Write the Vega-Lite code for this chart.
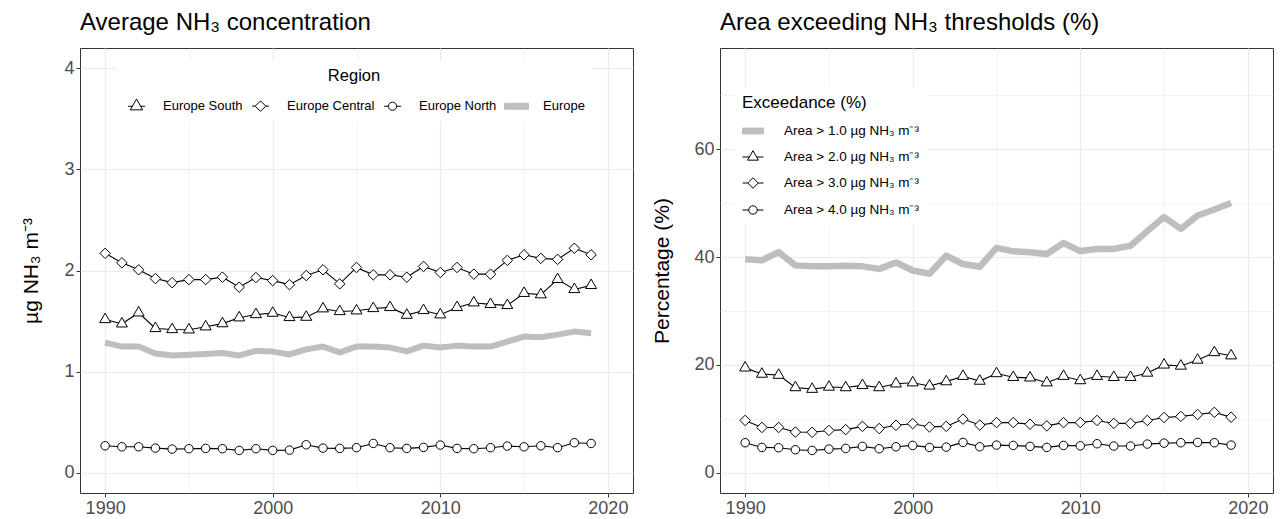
{
  "$schema": "https://vega.github.io/schema/vega-lite/v6.json",
  "background": "white",
  "padding": {"left": 20, "top": 10, "right": 5, "bottom": 0},
  "spacing": 87,
  "bounds": "flush",
  "resolve": {"scale": {"shape": "independent", "fill": "independent", "stroke": "independent"}, "legend": {"shape": "independent", "fill": "independent", "stroke": "independent"}},
  "config": {
    "font": "Liberation Sans",
    "view": {"stroke": "#333333", "strokeWidth": 1},
    "title": {"font": "Liberation Sans", "fontSize": 24, "fontWeight": "normal", "anchor": "start", "frame": "group", "color": "black", "offset": 13},
    "axis": {
      "domain": false,
      "labelFont": "Liberation Sans",
      "labelFontSize": 18,
      "labelColor": "#4d4d4d",
      "tickColor": "#333333",
      "tickSize": 4,
      "labelPadding": 2,
      "titleFont": "Liberation Sans",
      "titleFontSize": 21,
      "titleFontWeight": "normal",
      "titleColor": "black",
      "gridColor": "#ebebeb",
      "labelFlush": false
    },
    "legend": {
      "labelFont": "Liberation Sans",
      "titleFont": "Liberation Sans",
      "titleFontWeight": "normal",
      "titleColor": "black",
      "labelColor": "black"
    }
  },
  "datasets": {
    "conc": [
      {"year":1990,"region":"Europe South","value":1.516},{"year":1991,"region":"Europe South","value":1.473},{"year":1992,"region":"Europe South","value":1.582},{"year":1993,"region":"Europe South","value":1.427},{"year":1994,"region":"Europe South","value":1.417},{"year":1995,"region":"Europe South","value":1.414},{"year":1996,"region":"Europe South","value":1.444},{"year":1997,"region":"Europe South","value":1.475},{"year":1998,"region":"Europe South","value":1.533},{"year":1999,"region":"Europe South","value":1.565},{"year":2000,"region":"Europe South","value":1.579},{"year":2001,"region":"Europe South","value":1.536},{"year":2002,"region":"Europe South","value":1.539},{"year":2003,"region":"Europe South","value":1.622},{"year":2004,"region":"Europe South","value":1.595},{"year":2005,"region":"Europe South","value":1.602},{"year":2006,"region":"Europe South","value":1.625},{"year":2007,"region":"Europe South","value":1.635},{"year":2008,"region":"Europe South","value":1.559},{"year":2009,"region":"Europe South","value":1.605},{"year":2010,"region":"Europe South","value":1.563},{"year":2011,"region":"Europe South","value":1.635},{"year":2012,"region":"Europe South","value":1.681},{"year":2013,"region":"Europe South","value":1.665},{"year":2014,"region":"Europe South","value":1.655},{"year":2015,"region":"Europe South","value":1.775},{"year":2016,"region":"Europe South","value":1.761},{"year":2017,"region":"Europe South","value":1.912},{"year":2018,"region":"Europe South","value":1.813},{"year":2019,"region":"Europe South","value":1.853},
      {"year":1990,"region":"Europe Central","value":2.17},{"year":1991,"region":"Europe Central","value":2.076},{"year":1992,"region":"Europe Central","value":2.007},{"year":1993,"region":"Europe Central","value":1.92},{"year":1994,"region":"Europe Central","value":1.88},{"year":1995,"region":"Europe Central","value":1.91},{"year":1996,"region":"Europe Central","value":1.91},{"year":1997,"region":"Europe Central","value":1.934},{"year":1998,"region":"Europe Central","value":1.835},{"year":1999,"region":"Europe Central","value":1.93},{"year":2000,"region":"Europe Central","value":1.9},{"year":2001,"region":"Europe Central","value":1.86},{"year":2002,"region":"Europe Central","value":1.95},{"year":2003,"region":"Europe Central","value":2.007},{"year":2004,"region":"Europe Central","value":1.868},{"year":2005,"region":"Europe Central","value":2.03},{"year":2006,"region":"Europe Central","value":1.957},{"year":2007,"region":"Europe Central","value":1.957},{"year":2008,"region":"Europe Central","value":1.934},{"year":2009,"region":"Europe Central","value":2.04},{"year":2010,"region":"Europe Central","value":1.98},{"year":2011,"region":"Europe Central","value":2.03},{"year":2012,"region":"Europe Central","value":1.964},{"year":2013,"region":"Europe Central","value":1.964},{"year":2014,"region":"Europe Central","value":2.1},{"year":2015,"region":"Europe Central","value":2.155},{"year":2016,"region":"Europe Central","value":2.12},{"year":2017,"region":"Europe Central","value":2.11},{"year":2018,"region":"Europe Central","value":2.22},{"year":2019,"region":"Europe Central","value":2.155},
      {"year":1990,"region":"Europe North","value":0.267},{"year":1991,"region":"Europe North","value":0.257},{"year":1992,"region":"Europe North","value":0.257},{"year":1993,"region":"Europe North","value":0.244},{"year":1994,"region":"Europe North","value":0.234},{"year":1995,"region":"Europe North","value":0.238},{"year":1996,"region":"Europe North","value":0.241},{"year":1997,"region":"Europe North","value":0.238},{"year":1998,"region":"Europe North","value":0.221},{"year":1999,"region":"Europe North","value":0.238},{"year":2000,"region":"Europe North","value":0.221},{"year":2001,"region":"Europe North","value":0.224},{"year":2002,"region":"Europe North","value":0.277},{"year":2003,"region":"Europe North","value":0.244},{"year":2004,"region":"Europe North","value":0.241},{"year":2005,"region":"Europe North","value":0.248},{"year":2006,"region":"Europe North","value":0.29},{"year":2007,"region":"Europe North","value":0.248},{"year":2008,"region":"Europe North","value":0.241},{"year":2009,"region":"Europe North","value":0.251},{"year":2010,"region":"Europe North","value":0.274},{"year":2011,"region":"Europe North","value":0.241},{"year":2012,"region":"Europe North","value":0.238},{"year":2013,"region":"Europe North","value":0.248},{"year":2014,"region":"Europe North","value":0.264},{"year":2015,"region":"Europe North","value":0.257},{"year":2016,"region":"Europe North","value":0.267},{"year":2017,"region":"Europe North","value":0.248},{"year":2018,"region":"Europe North","value":0.297},{"year":2019,"region":"Europe North","value":0.29},
      {"year":1990,"region":"Europe","value":1.287},{"year":1991,"region":"Europe","value":1.248},{"year":1992,"region":"Europe","value":1.248},{"year":1993,"region":"Europe","value":1.18},{"year":1994,"region":"Europe","value":1.16},{"year":1995,"region":"Europe","value":1.168},{"year":1996,"region":"Europe","value":1.175},{"year":1997,"region":"Europe","value":1.185},{"year":1998,"region":"Europe","value":1.16},{"year":1999,"region":"Europe","value":1.205},{"year":2000,"region":"Europe","value":1.198},{"year":2001,"region":"Europe","value":1.17},{"year":2002,"region":"Europe","value":1.22},{"year":2003,"region":"Europe","value":1.248},{"year":2004,"region":"Europe","value":1.19},{"year":2005,"region":"Europe","value":1.248},{"year":2006,"region":"Europe","value":1.248},{"year":2007,"region":"Europe","value":1.238},{"year":2008,"region":"Europe","value":1.2},{"year":2009,"region":"Europe","value":1.257},{"year":2010,"region":"Europe","value":1.238},{"year":2011,"region":"Europe","value":1.257},{"year":2012,"region":"Europe","value":1.248},{"year":2013,"region":"Europe","value":1.248},{"year":2014,"region":"Europe","value":1.297},{"year":2015,"region":"Europe","value":1.347},{"year":2016,"region":"Europe","value":1.34},{"year":2017,"region":"Europe","value":1.366},{"year":2018,"region":"Europe","value":1.396},{"year":2019,"region":"Europe","value":1.38}
    ],
    "exc": [
      {"year":1990,"threshold":"Area > 1.0 µg NH₃ m⁻³","pct":39.6},{"year":1991,"threshold":"Area > 1.0 µg NH₃ m⁻³","pct":39.4},{"year":1992,"threshold":"Area > 1.0 µg NH₃ m⁻³","pct":40.9},{"year":1993,"threshold":"Area > 1.0 µg NH₃ m⁻³","pct":38.45},{"year":1994,"threshold":"Area > 1.0 µg NH₃ m⁻³","pct":38.3},{"year":1995,"threshold":"Area > 1.0 µg NH₃ m⁻³","pct":38.27},{"year":1996,"threshold":"Area > 1.0 µg NH₃ m⁻³","pct":38.4},{"year":1997,"threshold":"Area > 1.0 µg NH₃ m⁻³","pct":38.27},{"year":1998,"threshold":"Area > 1.0 µg NH₃ m⁻³","pct":37.8},{"year":1999,"threshold":"Area > 1.0 µg NH₃ m⁻³","pct":39.0},{"year":2000,"threshold":"Area > 1.0 µg NH₃ m⁻³","pct":37.5},{"year":2001,"threshold":"Area > 1.0 µg NH₃ m⁻³","pct":36.9},{"year":2002,"threshold":"Area > 1.0 µg NH₃ m⁻³","pct":40.25},{"year":2003,"threshold":"Area > 1.0 µg NH₃ m⁻³","pct":38.7},{"year":2004,"threshold":"Area > 1.0 µg NH₃ m⁻³","pct":38.2},{"year":2005,"threshold":"Area > 1.0 µg NH₃ m⁻³","pct":41.7},{"year":2006,"threshold":"Area > 1.0 µg NH₃ m⁻³","pct":41.05},{"year":2007,"threshold":"Area > 1.0 µg NH₃ m⁻³","pct":40.9},{"year":2008,"threshold":"Area > 1.0 µg NH₃ m⁻³","pct":40.55},{"year":2009,"threshold":"Area > 1.0 µg NH₃ m⁻³","pct":42.6},{"year":2010,"threshold":"Area > 1.0 µg NH₃ m⁻³","pct":41.1},{"year":2011,"threshold":"Area > 1.0 µg NH₃ m⁻³","pct":41.5},{"year":2012,"threshold":"Area > 1.0 µg NH₃ m⁻³","pct":41.5},{"year":2013,"threshold":"Area > 1.0 µg NH₃ m⁻³","pct":42.1},{"year":2014,"threshold":"Area > 1.0 µg NH₃ m⁻³","pct":44.8},{"year":2015,"threshold":"Area > 1.0 µg NH₃ m⁻³","pct":47.4},{"year":2016,"threshold":"Area > 1.0 µg NH₃ m⁻³","pct":45.2},{"year":2017,"threshold":"Area > 1.0 µg NH₃ m⁻³","pct":47.7},{"year":2018,"threshold":"Area > 1.0 µg NH₃ m⁻³","pct":48.8},{"year":2019,"threshold":"Area > 1.0 µg NH₃ m⁻³","pct":50.0},
      {"year":1990,"threshold":"Area > 2.0 µg NH₃ m⁻³","pct":19.45},{"year":1991,"threshold":"Area > 2.0 µg NH₃ m⁻³","pct":18.3},{"year":1992,"threshold":"Area > 2.0 µg NH₃ m⁻³","pct":18.1},{"year":1993,"threshold":"Area > 2.0 µg NH₃ m⁻³","pct":15.8},{"year":1994,"threshold":"Area > 2.0 µg NH₃ m⁻³","pct":15.5},{"year":1995,"threshold":"Area > 2.0 µg NH₃ m⁻³","pct":15.9},{"year":1996,"threshold":"Area > 2.0 µg NH₃ m⁻³","pct":15.8},{"year":1997,"threshold":"Area > 2.0 µg NH₃ m⁻³","pct":16.2},{"year":1998,"threshold":"Area > 2.0 µg NH₃ m⁻³","pct":15.8},{"year":1999,"threshold":"Area > 2.0 µg NH₃ m⁻³","pct":16.5},{"year":2000,"threshold":"Area > 2.0 µg NH₃ m⁻³","pct":16.7},{"year":2001,"threshold":"Area > 2.0 µg NH₃ m⁻³","pct":16.1},{"year":2002,"threshold":"Area > 2.0 µg NH₃ m⁻³","pct":16.9},{"year":2003,"threshold":"Area > 2.0 µg NH₃ m⁻³","pct":17.9},{"year":2004,"threshold":"Area > 2.0 µg NH₃ m⁻³","pct":17.0},{"year":2005,"threshold":"Area > 2.0 µg NH₃ m⁻³","pct":18.4},{"year":2006,"threshold":"Area > 2.0 µg NH₃ m⁻³","pct":17.7},{"year":2007,"threshold":"Area > 2.0 µg NH₃ m⁻³","pct":17.6},{"year":2008,"threshold":"Area > 2.0 µg NH₃ m⁻³","pct":16.7},{"year":2009,"threshold":"Area > 2.0 µg NH₃ m⁻³","pct":17.9},{"year":2010,"threshold":"Area > 2.0 µg NH₃ m⁻³","pct":17.1},{"year":2011,"threshold":"Area > 2.0 µg NH₃ m⁻³","pct":17.9},{"year":2012,"threshold":"Area > 2.0 µg NH₃ m⁻³","pct":17.7},{"year":2013,"threshold":"Area > 2.0 µg NH₃ m⁻³","pct":17.7},{"year":2014,"threshold":"Area > 2.0 µg NH₃ m⁻³","pct":18.5},{"year":2015,"threshold":"Area > 2.0 µg NH₃ m⁻³","pct":20.0},{"year":2016,"threshold":"Area > 2.0 µg NH₃ m⁻³","pct":19.8},{"year":2017,"threshold":"Area > 2.0 µg NH₃ m⁻³","pct":20.9},{"year":2018,"threshold":"Area > 2.0 µg NH₃ m⁻³","pct":22.3},{"year":2019,"threshold":"Area > 2.0 µg NH₃ m⁻³","pct":21.7},
      {"year":1990,"threshold":"Area > 3.0 µg NH₃ m⁻³","pct":9.7},{"year":1991,"threshold":"Area > 3.0 µg NH₃ m⁻³","pct":8.4},{"year":1992,"threshold":"Area > 3.0 µg NH₃ m⁻³","pct":8.4},{"year":1993,"threshold":"Area > 3.0 µg NH₃ m⁻³","pct":7.55},{"year":1994,"threshold":"Area > 3.0 µg NH₃ m⁻³","pct":7.5},{"year":1995,"threshold":"Area > 3.0 µg NH₃ m⁻³","pct":7.85},{"year":1996,"threshold":"Area > 3.0 µg NH₃ m⁻³","pct":8.0},{"year":1997,"threshold":"Area > 3.0 µg NH₃ m⁻³","pct":8.6},{"year":1998,"threshold":"Area > 3.0 µg NH₃ m⁻³","pct":8.2},{"year":1999,"threshold":"Area > 3.0 µg NH₃ m⁻³","pct":8.8},{"year":2000,"threshold":"Area > 3.0 µg NH₃ m⁻³","pct":9.1},{"year":2001,"threshold":"Area > 3.0 µg NH₃ m⁻³","pct":8.5},{"year":2002,"threshold":"Area > 3.0 µg NH₃ m⁻³","pct":8.6},{"year":2003,"threshold":"Area > 3.0 µg NH₃ m⁻³","pct":9.95},{"year":2004,"threshold":"Area > 3.0 µg NH₃ m⁻³","pct":8.85},{"year":2005,"threshold":"Area > 3.0 µg NH₃ m⁻³","pct":9.3},{"year":2006,"threshold":"Area > 3.0 µg NH₃ m⁻³","pct":9.3},{"year":2007,"threshold":"Area > 3.0 µg NH₃ m⁻³","pct":9.0},{"year":2008,"threshold":"Area > 3.0 µg NH₃ m⁻³","pct":8.7},{"year":2009,"threshold":"Area > 3.0 µg NH₃ m⁻³","pct":9.3},{"year":2010,"threshold":"Area > 3.0 µg NH₃ m⁻³","pct":9.3},{"year":2011,"threshold":"Area > 3.0 µg NH₃ m⁻³","pct":9.7},{"year":2012,"threshold":"Area > 3.0 µg NH₃ m⁻³","pct":9.15},{"year":2013,"threshold":"Area > 3.0 µg NH₃ m⁻³","pct":9.15},{"year":2014,"threshold":"Area > 3.0 µg NH₃ m⁻³","pct":9.7},{"year":2015,"threshold":"Area > 3.0 µg NH₃ m⁻³","pct":10.25},{"year":2016,"threshold":"Area > 3.0 µg NH₃ m⁻³","pct":10.45},{"year":2017,"threshold":"Area > 3.0 µg NH₃ m⁻³","pct":10.8},{"year":2018,"threshold":"Area > 3.0 µg NH₃ m⁻³","pct":11.2},{"year":2019,"threshold":"Area > 3.0 µg NH₃ m⁻³","pct":10.3},
      {"year":1990,"threshold":"Area > 4.0 µg NH₃ m⁻³","pct":5.57},{"year":1991,"threshold":"Area > 4.0 µg NH₃ m⁻³","pct":4.7},{"year":1992,"threshold":"Area > 4.0 µg NH₃ m⁻³","pct":4.64},{"year":1993,"threshold":"Area > 4.0 µg NH₃ m⁻³","pct":4.27},{"year":1994,"threshold":"Area > 4.0 µg NH₃ m⁻³","pct":4.14},{"year":1995,"threshold":"Area > 4.0 µg NH₃ m⁻³","pct":4.39},{"year":1996,"threshold":"Area > 4.0 µg NH₃ m⁻³","pct":4.51},{"year":1997,"threshold":"Area > 4.0 µg NH₃ m⁻³","pct":4.89},{"year":1998,"threshold":"Area > 4.0 µg NH₃ m⁻³","pct":4.45},{"year":1999,"threshold":"Area > 4.0 µg NH₃ m⁻³","pct":4.82},{"year":2000,"threshold":"Area > 4.0 µg NH₃ m⁻³","pct":5.07},{"year":2001,"threshold":"Area > 4.0 µg NH₃ m⁻³","pct":4.7},{"year":2002,"threshold":"Area > 4.0 µg NH₃ m⁻³","pct":4.76},{"year":2003,"threshold":"Area > 4.0 µg NH₃ m⁻³","pct":5.63},{"year":2004,"threshold":"Area > 4.0 µg NH₃ m⁻³","pct":4.82},{"year":2005,"threshold":"Area > 4.0 µg NH₃ m⁻³","pct":5.13},{"year":2006,"threshold":"Area > 4.0 µg NH₃ m⁻³","pct":5.07},{"year":2007,"threshold":"Area > 4.0 µg NH₃ m⁻³","pct":4.89},{"year":2008,"threshold":"Area > 4.0 µg NH₃ m⁻³","pct":4.7},{"year":2009,"threshold":"Area > 4.0 µg NH₃ m⁻³","pct":5.07},{"year":2010,"threshold":"Area > 4.0 µg NH₃ m⁻³","pct":5.0},{"year":2011,"threshold":"Area > 4.0 µg NH₃ m⁻³","pct":5.38},{"year":2012,"threshold":"Area > 4.0 µg NH₃ m⁻³","pct":4.95},{"year":2013,"threshold":"Area > 4.0 µg NH₃ m⁻³","pct":4.95},{"year":2014,"threshold":"Area > 4.0 µg NH₃ m⁻³","pct":5.32},{"year":2015,"threshold":"Area > 4.0 µg NH₃ m⁻³","pct":5.5},{"year":2016,"threshold":"Area > 4.0 µg NH₃ m⁻³","pct":5.57},{"year":2017,"threshold":"Area > 4.0 µg NH₃ m⁻³","pct":5.63},{"year":2018,"threshold":"Area > 4.0 µg NH₃ m⁻³","pct":5.57},{"year":2019,"threshold":"Area > 4.0 µg NH₃ m⁻³","pct":5.13}
    ]
  },
  "hconcat": [
    {
      "title": {"text": "Average NH₃ concentration"},
      "width": 553,
      "height": 445,
      "data": {"name": "conc"},
      "encoding": {
        "x": {
          "field": "year", "type": "quantitative",
          "scale": {"domain": [1988.5, 2021.5], "nice": false, "zero": false},
          "axis": {
            "title": null,
            "values": [1990, 1995, 2000, 2005, 2010, 2015, 2020],
            "labelExpr": "datum.value % 10 === 0 ? datum.label : ''",
            "format": "d",
            "tickOpacity": {"condition": {"test": "datum.value % 10 === 0", "value": 1}, "value": 0},
            "gridWidth": {"condition": {"test": "datum.value % 10 === 0", "value": 1.2}, "value": 0.6}
          }
        },
        "y": {
          "field": "value", "type": "quantitative",
          "scale": {"domain": [-0.2, 4.2], "nice": false, "zero": false},
          "axis": {
            "title": "µg NH₃ m⁻³",
            "titlePadding": 22,
            "format": "d",
            "values": [0, 0.5, 1, 1.5, 2, 2.5, 3, 3.5, 4],
            "labelExpr": "datum.value % 1 === 0 ? datum.label : ''",
            "tickOpacity": {"condition": {"test": "datum.value % 1 === 0", "value": 1}, "value": 0},
            "gridWidth": {"condition": {"test": "datum.value % 1 === 0", "value": 1.2}, "value": 0.6}
          }
        }
      },
      "layer": [
        {
          "transform": [{"filter": "datum.region === 'Europe'"}],
          "mark": {"type": "line", "color": "#bebebe", "strokeWidth": 6, "strokeJoin": "round"}
        },
        {
          "transform": [{"filter": "datum.region !== 'Europe'"}],
          "mark": {"type": "line", "color": "black", "strokeWidth": 1.1},
          "encoding": {"detail": {"field": "region"}}
        },
        {
          "transform": [{"filter": "datum.region === 'Europe South'"}],
          "mark": {"type": "point", "filled": true, "fill": "white", "stroke": "black", "strokeWidth": 1, "opacity": 1, "size": 161, "shape": "M0,-1L0.866,0.5L-0.866,0.5Z"}
        },
        {
          "transform": [{"filter": "datum.region === 'Europe Central'"}],
          "mark": {"type": "point", "filled": true, "fill": "white", "stroke": "black", "strokeWidth": 1, "opacity": 1, "size": 110, "shape": "diamond"}
        },
        {
          "transform": [{"filter": "datum.region === 'Europe North'"}],
          "mark": {"type": "point", "filled": true, "fill": "white", "stroke": "black", "strokeWidth": 1, "opacity": 1, "size": 72, "shape": "circle"}
        },
        {
          "mark": {"type": "point", "filled": true, "opacity": 0, "size": 1},
          "encoding": {
            "shape": {
              "field": "region", "type": "nominal",
              "scale": {"domain": ["Europe South", "Europe Central", "Europe North", "Europe"], "range": ["M-0.7,0H-0.3M0.3,0H0.7M0,-0.6L0.52,0.3L-0.52,0.3Z", "M-0.7,0H-0.44M0.44,0H0.7M0,-0.44L0.44,0L0,0.44L-0.44,0Z", "M-0.7,0H-0.34M0.34,0H0.7M0.34,0A0.34,0.34,0,1,1,-0.34,0A0.34,0.34,0,1,1,0.34,0Z", "M-1,-0.25H1V0.25H-1Z"]},
              "legend": {
                "title": "Region",
                "orient": "none",
                "legendX": 37,
                "legendY": 13,
                "direction": "horizontal",
                "columns": 4,
                "titleAnchor": "middle",
                "titleFontSize": 16.5,
                "titlePadding": 9,
                "labelFontSize": 13,
                "symbolSize": 576,
                "symbolOpacity": 1,
                "symbolStrokeWidth": 1,
                "labelOffset": 14,
                "columnPadding": 5,
                "padding": 7,
                "fillColor": "white"
              }
            },
            "fill": {
              "field": "region", "type": "nominal",
              "scale": {"domain": ["Europe South", "Europe Central", "Europe North", "Europe"], "range": ["white", "white", "white", "#bebebe"]}
            },
            "stroke": {
              "field": "region", "type": "nominal",
              "scale": {"domain": ["Europe South", "Europe Central", "Europe North", "Europe"], "range": ["black", "black", "black", "#bebebe"]}
            }
          }
        }
      ]
    },
    {
      "title": {"text": "Area exceeding NH₃ thresholds (%)"},
      "width": 553,
      "height": 445,
      "data": {"name": "exc"},
      "encoding": {
        "x": {
          "field": "year", "type": "quantitative",
          "scale": {"domain": [1988.5, 2021.5], "nice": false, "zero": false},
          "axis": {
            "title": null,
            "values": [1990, 1995, 2000, 2005, 2010, 2015, 2020],
            "labelExpr": "datum.value % 10 === 0 ? datum.label : ''",
            "format": "d",
            "tickOpacity": {"condition": {"test": "datum.value % 10 === 0", "value": 1}, "value": 0},
            "gridWidth": {"condition": {"test": "datum.value % 10 === 0", "value": 1.2}, "value": 0.6}
          }
        },
        "y": {
          "field": "pct", "type": "quantitative",
          "scale": {"domain": [-3.75, 78.75], "nice": false, "zero": false},
          "axis": {
            "title": "Percentage (%)",
            "titlePadding": 21,
            "format": "d",
            "values": [0, 10, 20, 30, 40, 50, 60, 70],
            "labelExpr": "datum.value % 20 === 0 ? datum.label : ''",
            "tickOpacity": {"condition": {"test": "datum.value % 20 === 0", "value": 1}, "value": 0},
            "gridWidth": {"condition": {"test": "datum.value % 20 === 0", "value": 1.2}, "value": 0.6}
          }
        }
      },
      "layer": [
        {
          "transform": [{"filter": "datum.threshold === 'Area > 1.0 µg NH₃ m⁻³'"}],
          "mark": {"type": "line", "color": "#bebebe", "strokeWidth": 6.5, "strokeJoin": "round"}
        },
        {
          "transform": [{"filter": "datum.threshold !== 'Area > 1.0 µg NH₃ m⁻³'"}],
          "mark": {"type": "line", "color": "black", "strokeWidth": 1.1},
          "encoding": {"detail": {"field": "threshold"}}
        },
        {
          "transform": [{"filter": "datum.threshold === 'Area > 2.0 µg NH₃ m⁻³'"}],
          "mark": {"type": "point", "filled": true, "fill": "white", "stroke": "black", "strokeWidth": 1, "opacity": 1, "size": 161, "shape": "M0,-1L0.866,0.5L-0.866,0.5Z"}
        },
        {
          "transform": [{"filter": "datum.threshold === 'Area > 3.0 µg NH₃ m⁻³'"}],
          "mark": {"type": "point", "filled": true, "fill": "white", "stroke": "black", "strokeWidth": 1, "opacity": 1, "size": 110, "shape": "diamond"}
        },
        {
          "transform": [{"filter": "datum.threshold === 'Area > 4.0 µg NH₃ m⁻³'"}],
          "mark": {"type": "point", "filled": true, "fill": "white", "stroke": "black", "strokeWidth": 1, "opacity": 1, "size": 72, "shape": "circle"}
        },
        {
          "mark": {"type": "point", "filled": true, "opacity": 0, "size": 1},
          "encoding": {
            "shape": {
              "field": "threshold", "type": "nominal",
              "scale": {"domain": ["Area > 1.0 µg NH₃ m⁻³", "Area > 2.0 µg NH₃ m⁻³", "Area > 3.0 µg NH₃ m⁻³", "Area > 4.0 µg NH₃ m⁻³"], "range": ["M-1,-0.28H1V0.28H-1Z", "M-1,0H-0.35M0.35,0H1M0,-0.6L0.52,0.3L-0.52,0.3Z", "M-1,0H-0.5M0.5,0H1M0,-0.5L0.5,0L0,0.5L-0.5,0Z", "M-1,0H-0.4M0.4,0H1M0.4,0A0.4,0.4,0,1,1,-0.4,0A0.4,0.4,0,1,1,0.4,0Z"]},
              "legend": {
                "title": "Exceedance (%)",
                "orient": "none",
                "legendX": 14,
                "legendY": 39,
                "direction": "vertical",
                "titleAnchor": "start",
                "titleFontSize": 17,
                "titlePadding": 8,
                "labelFontSize": 13.5,
                "symbolSize": 441,
                "symbolOpacity": 1,
                "symbolStrokeWidth": 1,
                "labelOffset": 20,
                "rowPadding": 8,
                "padding": 8,
                "fillColor": "white"
              }
            },
            "fill": {
              "field": "threshold", "type": "nominal",
              "scale": {"domain": ["Area > 1.0 µg NH₃ m⁻³", "Area > 2.0 µg NH₃ m⁻³", "Area > 3.0 µg NH₃ m⁻³", "Area > 4.0 µg NH₃ m⁻³"], "range": ["#bebebe", "white", "white", "white"]}
            },
            "stroke": {
              "field": "threshold", "type": "nominal",
              "scale": {"domain": ["Area > 1.0 µg NH₃ m⁻³", "Area > 2.0 µg NH₃ m⁻³", "Area > 3.0 µg NH₃ m⁻³", "Area > 4.0 µg NH₃ m⁻³"], "range": ["#bebebe", "black", "black", "black"]}
            }
          }
        }
      ]
    }
  ]
}
